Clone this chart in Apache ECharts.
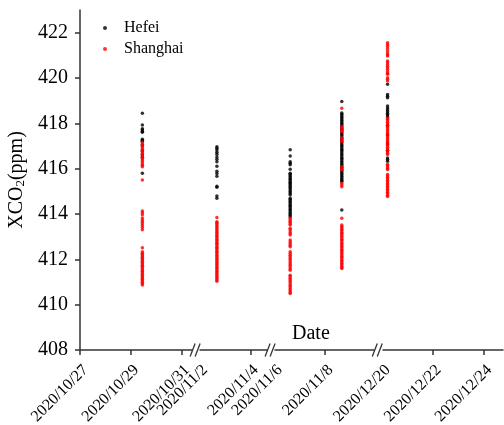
<!DOCTYPE html>
<html>
<head>
<meta charset="utf-8">
<script src="https://cdn.jsdelivr.net/npm/echarts@6.0.0/dist/echarts.min.js"></script>
<style>
html, body { margin: 0; padding: 0; background: #fff; }
#main { width: 504px; height: 425px; }
</style>
</head>
<body>
<div id="main"></div>
<script>
// tick labels on the date axis
var tickDates = ['2020/10/27', '2020/10/29', '2020/10/31', '2020/11/2', '2020/11/4',
  '2020/11/6', '2020/11/8', '2020/12/20', '2020/12/22', '2020/12/24'];
var tickMarkDates = ['2020/10/27', '2020/10/29', '2020/10/31', '2020/11/4', '2020/11/8',
  '2020/12/22', '2020/12/24'];
var yTicks = [408, 410, 412, 414, 416, 418, 420, 422];
// broken ranges of the date axis, in days from 2020/10/27
var xBreaks = [[4.4, 6], [8.65, 10], [13.9, 54]];

// satellite overpass times
var passTimes = ['2020/10/29 11:00', '2020/11/2 16:20', '2020/11/6 15:00', '2020/11/8 15:50', '2020/12/20 05:00'];

// XCO2 (ppm) per overpass
var hefei1029 = [418.45, 417.93, 417.76, 417.71, 417.64, 417.61, 417.3, 417.24, 417.2, 417.02, 416.78, 416.61, 416.5, 415.8];
var shanghai1029 = [417.15, 417.08, 417.0, 416.93, 416.86, 416.8, 416.74, 416.67, 416.6, 416.52, 416.45, 416.38,
  416.3, 416.22, 416.15, 416.09, 415.5, 414.13, 414.06, 413.97, 413.82, 413.74, 413.66, 413.58, 413.49, 413.4,
  413.31, 412.51, 412.33, 412.27, 412.21, 412.15, 412.09, 412.03, 411.98, 411.92, 411.86, 411.8, 411.74, 411.69,
  411.63, 411.57, 411.51, 411.46, 411.4, 411.34, 411.28, 411.23, 411.17, 411.11, 411.05, 410.99, 410.93, 410.87];

var hefei1102 = [416.97, 416.9, 416.82, 416.72, 416.64, 416.52, 416.41, 416.3, 416.11, 415.89, 415.79, 415.67,
  415.22, 415.18, 414.79, 414.69];
var shanghai1102 = [413.85, 413.66, 413.61, 413.57, 413.5, 413.43, 413.38, 413.31, 413.25, 413.2, 413.13, 413.07,
  413.01, 412.96, 412.89, 412.84, 412.77, 412.71, 412.66, 412.59, 412.53, 412.48, 412.41, 412.35, 412.3, 412.23,
  412.17, 412.12, 412.05, 411.99, 411.94, 411.87, 411.81, 411.76, 411.69, 411.63, 411.58, 411.51, 411.45, 411.4,
  411.33, 411.27, 411.22, 411.15, 411.09, 411.03];

var hefei1106 = [416.83, 416.56, 416.3, 416.24, 416.17, 415.97, 415.8, 415.75, 415.69, 415.63, 415.57, 415.52,
  415.46, 415.4, 415.35, 415.29, 415.22, 415.16, 415.1, 415.03, 414.97, 414.9, 414.84, 414.7, 414.64, 414.58,
  414.52, 414.45, 414.39, 414.33, 414.26, 414.2, 414.14, 414.07, 414.01, 413.95, 413.88];
var shanghai1106 = [413.81, 413.75, 413.68, 413.62, 413.56, 413.51, 413.37, 413.3, 413.22, 413.14, 413.07,
  412.85, 412.78, 412.7, 412.62, 412.55, 412.33, 412.26, 412.18, 412.11, 412.04, 411.97, 411.89, 411.82, 411.74,
  411.66, 411.59, 411.52, 411.3, 411.24, 411.17, 411.1, 411.03, 410.96, 410.88, 410.81, 410.74, 410.67, 410.6,
  410.54, 410.49];

var hefei1108 = [418.96, 418.46, 418.4, 418.33, 418.27, 418.2, 418.14, 418.07, 418.0, 417.94, 417.88, 417.81,
  417.74, 417.68, 417.6, 417.54, 417.47, 417.4, 417.33, 417.27, 417.2, 417.13, 417.06, 417.0, 416.93, 416.86,
  416.8, 416.73, 416.66, 416.6, 416.53, 416.46, 416.4, 416.33, 416.26, 416.2, 416.13, 416.06, 416.0, 415.93,
  415.86, 415.8, 415.73, 415.66, 415.6, 415.53, 415.47, 415.43, 414.18];
var shanghai1108 = [418.67, 417.86, 417.78, 417.7, 417.64, 417.36, 417.28, 417.2, 416.09, 416.01, 415.94, 415.36,
  415.28, 415.2, 413.81, 413.51, 413.45, 413.39, 413.33, 413.27, 413.2, 413.14, 413.08, 413.02, 412.95, 412.89,
  412.83, 412.77, 412.7, 412.64, 412.58, 412.52, 412.45, 412.39, 412.33, 412.27, 412.2, 412.14, 412.08, 412.02,
  411.95, 411.89, 411.83, 411.77, 411.7, 411.64, 411.6];

var hefei1220 = [419.72, 419.27, 419.2, 419.13, 418.76, 418.68, 418.6, 418.52, 418.45, 418.38, 418.32, 418.25,
  417.9, 417.5, 417.1, 416.8, 416.47, 416.4, 416.33];
var shanghai1220 = [421.56, 421.48, 421.4, 421.3, 421.2, 421.1, 421.03, 420.97, 420.75, 420.68, 420.6, 420.52,
  420.44, 420.36, 420.28, 420.2, 420.16, 420.01, 419.94, 419.87, 418.24, 418.18, 418.11, 418.05, 417.98, 417.92,
  417.85, 417.79, 417.72, 417.66, 417.59, 417.53, 417.46, 417.4, 417.33, 417.27, 417.2, 417.14, 417.07, 417.01,
  416.94, 416.88, 416.81, 416.75, 416.68, 416.62, 416.2, 416.14, 416.07, 416.01, 415.96, 415.74, 415.68, 415.61,
  415.55, 415.48, 415.42, 415.35, 415.29, 415.22, 415.16, 415.09, 415.03, 414.96, 414.9, 414.83, 414.77];

var hefeiSets = [hefei1029, hefei1102, hefei1106, hefei1108, hefei1220];
var shanghaiSets = [shanghai1029, shanghai1102, shanghai1106, shanghai1108, shanghai1220];

var font = 'Liberation Serif';

// days since 2020/10/27 (UTC, so no DST shift)
function dayOf(s) {
  var p = s.split(/[\/ :]/).map(Number);
  return (Date.UTC(p[0], p[1] - 1, p[2], p[3] || 0, p[4] || 0) - Date.UTC(2020, 9, 27)) / 864e5;
}
var labelByDay = {};
tickDates.forEach(function (d) { labelByDay[Math.round(dayOf(d) * 1000)] = d; });

function toPoints(sets) {
  var out = [];
  sets.forEach(function (vals, i) {
    var x = dayOf(passTimes[i]);
    vals.forEach(function (v) { out.push([x, v]); });
  });
  return out;
}

var myChart = echarts.init(document.getElementById('main'));
var option = {
  animation: false,
  title: {
    text: 'Date',
    left: 287,
    top: 319,
    textStyle: { fontFamily: font, fontSize: 20, fontWeight: 'normal', color: '#000' }
  },
  legend: {
    data: ['Hefei', 'Shanghai'],
    orient: 'vertical',
    left: 98,
    top: 15,
    itemWidth: 28,
    itemHeight: 4,
    itemGap: 5,
    textStyle: { fontFamily: font, fontSize: 16, color: '#000' }
  },
  grid: { left: 80, right: 1, top: 10, bottom: 75, outerBoundsMode: 'none' },
  xAxis: {
    type: 'value',
    min: 0,
    max: 58.76,
    breaks: xBreaks.map(function (b, i) {
      return { start: b[0], end: b[1], gap: ['1.9%', '1.77%', '2.13%'][i] };
    }),
    breakArea: { show: false },
    splitLine: { show: false },
    axisLine: { lineStyle: { color: '#333', width: 1.5 } },
    axisTick: {
      length: 5,
      customValues: tickMarkDates.map(dayOf),
      lineStyle: { color: '#333', width: 1.5 }
    },
    axisLabel: {
      customValues: tickDates.map(dayOf),
      rotate: 45,
      margin: 12,
      verticalAlign: 'top',
      fontFamily: font,
      fontSize: 16,
      color: '#000',
      formatter: function (v) { return labelByDay[Math.round(v * 1000)] || ''; }
    }
  },
  yAxis: {
    type: 'value',
    min: 408,
    max: 423,
    name: 'XCO{sub|2}(ppm)',
    nameLocation: 'middle',
    nameGap: 42,
    nameTextStyle: {
      fontFamily: font, fontSize: 20, color: '#000',
      rich: { sub: { fontFamily: font, fontSize: 13, color: '#000', verticalAlign: 'bottom', padding: [6, 0, 0, 0] } }
    },
    splitLine: { show: false },
    axisLine: { show: true, lineStyle: { color: '#333', width: 1.5 } },
    axisTick: { show: true, length: 5, customValues: yTicks, lineStyle: { color: '#333', width: 1.5 } },
    axisLabel: { customValues: yTicks, margin: 12, fontFamily: font, fontSize: 20, color: '#000' }
  },
  series: [
    {
      name: 'Hefei',
      type: 'scatter',
      symbol: 'circle',
      symbolSize: 3.5,
      itemStyle: { color: '#000' },
      data: toPoints(hefeiSets)
    },
    {
      name: 'Shanghai',
      type: 'scatter',
      symbol: 'circle',
      symbolSize: 3.5,
      itemStyle: { color: '#ff0000' },
      data: toPoints(shanghaiSets)
    },
    {
      // the "//" marks where the date axis is broken
      name: 'axisBreaks',
      type: 'custom',
      silent: true,
      z: 10,
      data: xBreaks.map(function (b) { return [b[0], b[1], yTicks[0]]; }),
      encode: { x: [0, 1], y: 2 },
      renderItem: function (params, api) {
        var a = api.coord([api.value(0), api.value(2)]);
        var b = api.coord([api.value(1), api.value(2)]);
        var cx = (a[0] + b[0]) / 2, cy = a[1];
        var ls = { stroke: '#333', lineWidth: 1.3 };
        return {
          type: 'group',
          children: [
            { type: 'rect', shape: { x: cx - 3, y: cy - 3, width: 5, height: 6 }, style: { fill: '#fff' } },
            { type: 'line', shape: { x1: cx - 5.5, y1: cy + 6.5, x2: cx - 0.5, y2: cy - 6.5 }, style: ls },
            { type: 'line', shape: { x1: cx - 0.5, y1: cy + 6.5, x2: cx + 4.5, y2: cy - 6.5 }, style: ls }
          ]
        };
      }
    }
  ]
};
option && myChart.setOption(option);
</script>
</body>
</html>
